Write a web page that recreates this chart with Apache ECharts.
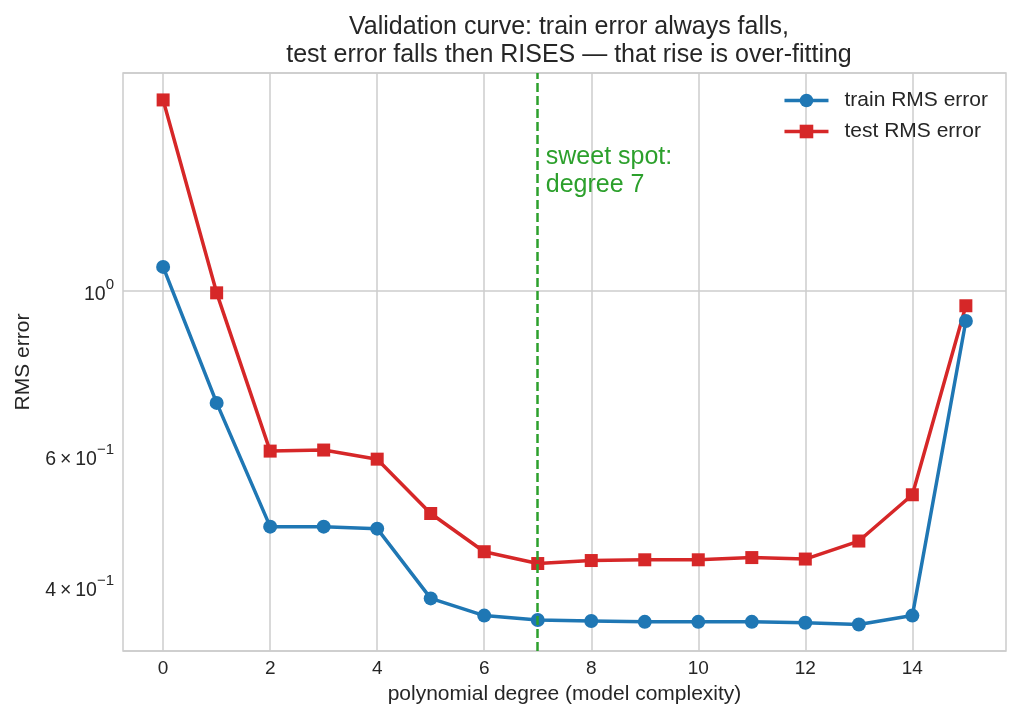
<!DOCTYPE html>
<html>
<head>
<meta charset="utf-8">
<script src="https://cdn.jsdelivr.net/npm/echarts@6/dist/echarts.min.js"></script>
<style>
  html, body { margin: 0; padding: 0; background: #fff; }
  #chart { width: 1021px; height: 720px; }
</style>
</head>
<body>
<div id="chart"></div>
<script>
// polynomial degree 0..15
const degrees = [0, 1, 2, 3, 4, 5, 6, 7, 8, 9, 10, 11, 12, 13, 14, 15];
const trainErr = [1.077, 0.707, 0.482, 0.482, 0.479, 0.386, 0.366, 0.361, 0.360, 0.359, 0.359, 0.359, 0.358, 0.356, 0.366, 0.911];
const testErr = [1.806, 0.994, 0.609, 0.611, 0.594, 0.502, 0.446, 0.430, 0.434, 0.435, 0.435, 0.438, 0.436, 0.461, 0.532, 0.955];
const xTicks = [0, 2, 4, 6, 8, 10, 12, 14];
const yTicks = [0.4, 0.6, 1];
const bestDegree = 7;

const textColor = '#262626';
const gridColor = '#cccccc';
const font = '"Liberation Sans", Arial, sans-serif';

const myChart = echarts.init(document.getElementById('chart'));

const option = {
  backgroundColor: '#fff',
  animation: false,
  textStyle: { fontFamily: font, color: textColor },
  title: {
    text: 'Validation curve: train error always falls,\ntest error falls then RISES \u2014 that rise is over-fitting',
    left: 564,
    textAlign: 'center',
    top: 8,
    textStyle: { fontFamily: font, fontSize: 25, fontWeight: 'normal', color: textColor, lineHeight: 28 }
  },
  legend: {
    orient: 'vertical',
    right: 28,
    top: 85,
    itemWidth: 44,
    itemHeight: 17,
    itemGap: 10,
    lineStyle: { width: 3.5 },
    textStyle: { fontFamily: font, fontSize: 21, color: textColor, padding: [0, 0, 0, 11] },
    data: ['train RMS error', 'test RMS error']
  },
  grid: {
    left: 123,
    right: 15,
    top: 73,
    bottom: 69,
    show: true,
    borderColor: gridColor,
    borderWidth: 1.5,
    backgroundColor: 'transparent'
  },
  xAxis: {
    type: 'value',
    min: -0.75,
    max: 15.75,
    name: 'polynomial degree (model complexity)',
    nameLocation: 'middle',
    nameGap: 33,
    nameTextStyle: { fontFamily: font, fontSize: 21, color: textColor },
    axisLine: { show: false },
    axisTick: { show: false, customValues: xTicks },
    axisLabel: { customValues: xTicks, fontFamily: font, fontSize: 19, color: textColor, margin: 8 },
    splitLine: { show: true, lineStyle: { color: gridColor, width: 1.5 } }
  },
  yAxis: {
    type: 'log',
    logBase: 10,
    min: 0.328,
    max: 1.963,
    name: 'RMS error',
    nameLocation: 'middle',
    nameGap: 89,
    nameTextStyle: { fontFamily: font, fontSize: 21, color: textColor },
    axisLine: { show: false },
    axisTick: { show: false },
    axisLabel: {
      customValues: yTicks,
      margin: 9,
      formatter: function (v) {
        if (Math.abs(v - 1) < 1e-9) return '{b|10}{s|0}';
        return '{b|' + Math.round(v * 10) + '\u2009\u00d7\u200910}{s|\u22121}';
      },
      rich: {
        b: { fontFamily: font, fontSize: 19.5, color: textColor, lineHeight: 28, verticalAlign: 'bottom' },
        s: { fontFamily: font, fontSize: 15, color: textColor, lineHeight: 14, verticalAlign: 'top' }
      }
    },
    splitLine: { show: true, lineStyle: { color: gridColor, width: 1.5 } }
  },
  series: [
    {
      name: 'train RMS error',
      type: 'line',
      data: degrees.map((d, i) => [d, trainErr[i]]),
      color: '#1f77b4',
      symbol: 'circle',
      symbolSize: 14,
      lineStyle: { width: 3.5 },
      z: 3,
      markLine: {
        silent: true,
        symbol: 'none',
        label: { show: false },
        lineStyle: { color: '#2ca02c', type: [9, 4], width: 2.5 },
        data: [{ xAxis: bestDegree }]
      }
    },
    {
      name: 'test RMS error',
      type: 'line',
      data: degrees.map((d, i) => [d, testErr[i]]),
      color: '#d62728',
      symbol: 'rect',
      symbolSize: 13,
      lineStyle: { width: 3.5 },
      z: 3,
      markPoint: {
        silent: true,
        symbol: 'circle',
        symbolSize: 0,
        data: [{ coord: [bestDegree + 0.15, 1.58] }],
        label: {
          show: true,
          position: [0, 0],
          align: 'left',
          verticalAlign: 'top',
          formatter: 'sweet spot:\ndegree 7',
          fontFamily: font,
          fontSize: 25,
          lineHeight: 28,
          color: '#2ca02c'
        }
      }
    }
  ]
};

myChart.setOption(option);
</script>
</body>
</html>
